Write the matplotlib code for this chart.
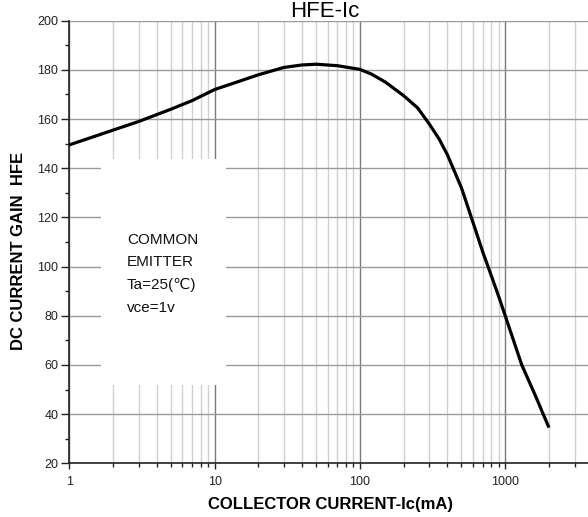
import matplotlib
matplotlib.use("Agg")
import matplotlib.pyplot as plt
from matplotlib.ticker import FixedLocator, MultipleLocator, LogLocator, NullFormatter
from matplotlib.patches import Rectangle

plt.rcParams['font.family'] = ['Liberation Sans', 'DejaVu Sans']

# data
ic_ma = [1, 1.5, 2, 3, 5, 7, 10, 15, 20, 30, 40, 50, 70, 100, 120, 150, 200, 250, 300, 350,
         400, 500, 600, 700, 800, 900, 1000, 1300, 1600, 2000]
hfe = [149.5, 153, 155.5, 159, 164, 167.5, 172, 175.5, 178, 181, 182, 182.3, 181.7, 180.2,
       178.3, 175, 169.5, 164.5, 158, 152, 145.5, 132, 118, 106, 96.5, 88, 80, 60, 48, 34.5]

x_ticks = [1, 10, 100, 1000]
x_tick_labels = ['1', '10', '100', '1000']
y_ticks = [20, 40, 60, 80, 100, 120, 140, 160, 180, 200]
note_lines = ['COMMON', 'EMITTER', 'Ta=25(\u2103)', 'vce=1v']

W, H = 588, 517
fig = plt.figure(figsize=(W / 100, H / 100), dpi=100)

left_px, right_px, top_px, bottom_px = 69.3, 592.7, 20.7, 463.3
ax = fig.add_axes([left_px / W, (H - bottom_px) / H, (right_px - left_px) / W, (bottom_px - top_px) / H])

ax.set_xscale('log')
ax.set_xlim(1, 4000)
ax.set_ylim(20, 200)

# grid
ax.set_axisbelow(True)
ax.xaxis.set_major_locator(FixedLocator(x_ticks))
ax.xaxis.set_minor_locator(LogLocator(base=10, subs=range(2, 10), numticks=20))
ax.xaxis.set_minor_formatter(NullFormatter())
ax.set_xticklabels(x_tick_labels)
ax.yaxis.set_major_locator(FixedLocator(y_ticks))
ax.yaxis.set_minor_locator(MultipleLocator(10))

ax.grid(True, which='major', axis='x', color='#7a7a7a', lw=1.0)
ax.grid(True, which='minor', axis='x', color='#d0d0d0', lw=1.0)
ax.grid(True, which='major', axis='y', color='#9a9a9a', lw=1.0)

for s in ['top', 'right']:
    ax.spines[s].set_visible(False)
for s in ['left', 'bottom']:
    ax.spines[s].set_color('#222222')
    ax.spines[s].set_linewidth(1.2)

ax.tick_params(axis='x', which='major', direction='out', length=4, width=1, pad=5,
               labelsize=9, colors='#222222')
ax.tick_params(axis='x', which='minor', direction='out', length=3, width=1, colors='#222222')
ax.tick_params(axis='y', which='major', direction='out', length=6, width=1, pad=2,
               labelsize=9, colors='#222222')
ax.tick_params(axis='y', which='minor', direction='out', length=3, width=1, colors='#222222')

# white note box covering the grid
bx0 = (101 - left_px) / (right_px - left_px)
bx1 = (226 - left_px) / (right_px - left_px)
by_top = (bottom_px - 159) / (bottom_px - top_px)
by_bot = (bottom_px - 385) / (bottom_px - top_px)
ax.add_patch(Rectangle((bx0, by_bot), bx1 - bx0, by_top - by_bot, transform=ax.transAxes,
                       facecolor='white', edgecolor='none', zorder=1))

tx = (127 - left_px) / (right_px - left_px)
for i, line in enumerate(note_lines):
    ty = (bottom_px - (240 + i * 22.5)) / (bottom_px - top_px)
    ax.text(tx, ty, line, transform=ax.transAxes, fontsize=11, va='center', ha='left',
            color='#111111', zorder=2)

ax.plot(ic_ma, hfe, color='black', lw=2.3, zorder=3, solid_capstyle='butt',
        solid_joinstyle='round')

fig.text(331 / W, 1 - 504 / H, 'COLLECTOR CURRENT-Ic(mA)', fontsize=12, fontweight='bold',
         ha='center', va='center')
fig.text(19 / W, 1 - 251 / H, 'DC CURRENT GAIN  HFE', fontsize=12, fontweight='bold',
         ha='center', va='center', rotation=90)
fig.text(325 / W, 1 - 17 / H, 'HFE-Ic', fontsize=16, ha='center', va='baseline')

fig.savefig('out.png', dpi=100)
